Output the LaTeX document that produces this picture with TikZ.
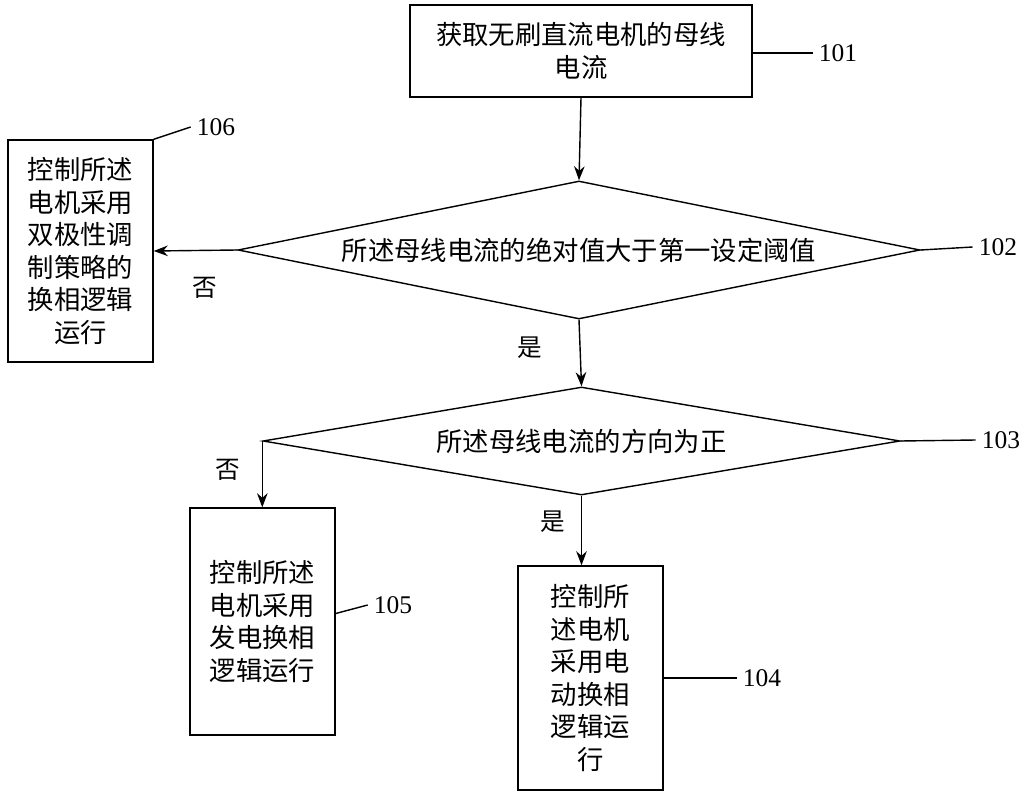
\documentclass[tikz,border=0pt]{standalone}
\usepackage{fontspec}
\setmainfont{Liberation Serif}
\newfontfamily\cjk{Noto Sans CJK SC}
\usetikzlibrary{shapes.geometric,arrows.meta}
\tikzset{
  box/.style={draw=black,thick,rectangle,align=center,font=\cjk\fontsize{15}{18.5}\selectfont,inner sep=0pt},
  cond/.style={draw=black,thick,diamond,aspect=4.9,inner sep=0pt,font=\cjk\fontsize{15}{18}\selectfont},
  flow/.style={-{Stealth[length=8pt,width=6pt]},thick},
  tag/.style={font=\fontsize{14.5}{16}\selectfont},
  yn/.style={font=\cjk\fontsize{14}{16}\selectfont}
}
\begin{document}
\begin{tikzpicture}[x=0.02cm,y=-0.02cm]
\useasboundingbox (0,0) rectangle (1030,800);

% boxes
\node[box,minimum width=342*0.02cm,minimum height=92*0.02cm] (b101) at (581,51) {获取无刷直流电机的母线\\电流};
\node[box,minimum width=145*0.02cm,minimum height=222*0.02cm] (b106) at (80.5,251) {控制所述\\电机采用\\双极性调\\制策略的\\换相逻辑\\运行};
\node[box,minimum width=145*0.02cm,minimum height=227*0.02cm] (b105) at (262.5,621.5) {控制所述\\电机采用\\发电换相\\逻辑运行};
\node[box,minimum width=145*0.02cm,minimum height=224*0.02cm] (b104) at (590.5,678) {控制所\\述电机\\采用电\\动换相\\逻辑运\\行};

% decisions
\node[cond,minimum width=682*0.02cm,minimum height=138*0.02cm] (d102) at (579,250) {所述母线电流的绝对值大于第一设定阈值};
\node[cond,minimum width=637*0.02cm,minimum height=108*0.02cm] (d103) at (581.5,441) {所述母线电流的方向为正};

% connectors
\draw[flow] (b101.south) -- (d102.north);
\draw[flow] (d102.west) -- (b106.east);
\draw[flow] (d102.south) -- (d103.north);
\draw[flow] (d103.west) -- (b105.north -| d103.west);
\draw[flow] (d103.south) -- (b104.north -| d103.south);

\node[yn] (n1) at (205,288) {否};
\node[yn] (y1) at (530,348) {是};
\node[yn] (n2) at (228,470) {否};
\node[yn] (y2) at (553,522) {是};

% reference labels
\node[tag] (t101) at (838,53) {101};
\node[tag] (t102) at (998,247) {102};
\node[tag] (t103) at (1001,440) {103};
\node[tag] (t104) at (762,678) {104};
\node[tag] (t105) at (393,605) {105};
\node[tag] (t106) at (216,127) {106};
\draw[thick] (b101.east |- t101) -- (t101.west);
\draw[thick] (d102.east) -- (t102.west);
\draw[thick] (d103.east) -- (t103.west);
\draw[thick] (b104.east |- t104) -- (t104.west);
\draw[thick] (b105.east) ++(0,-8) -- (t105.west);
\draw[thick] (b106.north east) -- (t106.west);
\end{tikzpicture}
\end{document}
